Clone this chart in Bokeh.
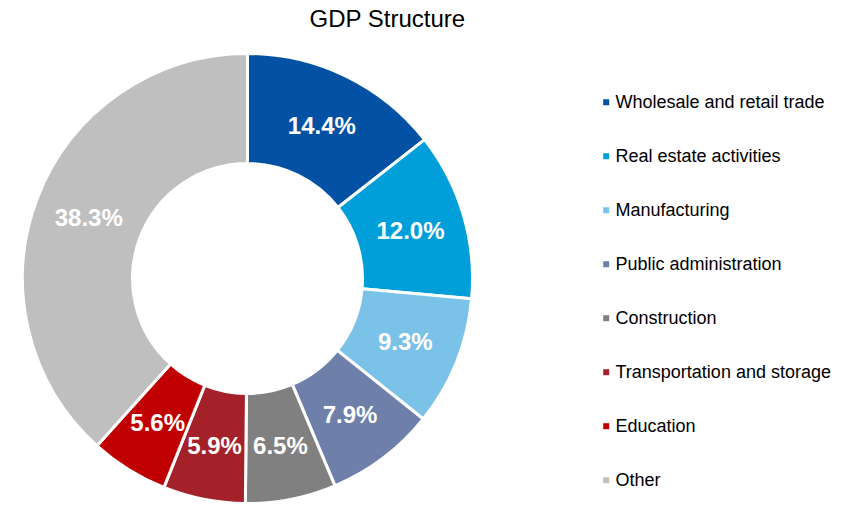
import numpy as np
from bokeh.plotting import figure
from bokeh.models import Range1d, ColumnDataSource
from bokeh.core.properties import value
from bokeh.embed import file_html
from bokeh.resources import INLINE

categories = ["Wholesale and retail trade", "Real estate activities", "Manufacturing",
              "Public administration", "Construction", "Transportation and storage",
              "Education", "Other"]
shares = [14.4, 12.0, 9.3, 7.9, 6.5, 5.9, 5.6, 38.3]
colors = ["#0251A5", "#009FDA", "#7BC2E8", "#6E7FAA", "#808080", "#A5212A", "#C00000", "#BFBFBF"]
title_text = "GDP Structure"

W, H = 861, 505
p = figure(width=W, height=H, output_backend="svg", toolbar_location=None,
           x_range=Range1d(0, W), y_range=Range1d(0, H),
           x_axis_type=None, y_axis_type=None, min_border=0)
p.outline_line_color = None
p.grid.visible = False
p.background_fill_color = "white"

cx, cy = 247, H - 278
R_out, R_in = 225, 115

vals = np.array(shares, dtype=float)
frac = vals / vals.sum()
cum = np.concatenate([[0], np.cumsum(frac)])
start = np.pi / 2 - 2 * np.pi * cum[:-1]
end = np.pi / 2 - 2 * np.pi * cum[1:]
mid = (start + end) / 2
rl = (R_out + R_in) / 2

src = ColumnDataSource(dict(
    start=start, end=end, color=colors,
    lx=cx + rl * np.cos(mid), ly=cy + rl * np.sin(mid),
    lab=[f"{v:.1f}%" for v in shares],
))

p.annular_wedge(x=cx, y=cy, inner_radius=R_in, outer_radius=R_out,
                start_angle="start", end_angle="end", direction="clock",
                fill_color="color", line_color="white", line_width=3, source=src)

p.text(x="lx", y="ly", text="lab", source=src, text_color="white",
       text_font=value("Liberation Sans"), text_font_style="bold",
       text_font_size="24px", text_align="center", text_baseline="middle")

# title
p.text(x=[387], y=[H - 18], text=[title_text], text_color="black",
       text_font=value("Liberation Sans"), text_font_size="24px",
       text_align="center", text_baseline="middle")

# legend
n = len(categories)
ly0 = H - 101.7
leg = ColumnDataSource(dict(
    mx=[605.7] * n, ty=[ly0 - 54 * i for i in range(n)],
    tx=[615] * n, color=colors, name=categories))
p.scatter(x="mx", y="ty", marker="square", size=6, fill_color="color",
          line_color=None, source=leg)
p.text(x="tx", y="ty", text="name", source=leg, text_color="black",
       text_font=value("Liberation Sans"), text_font_size="18px",
       text_align="left", text_baseline="middle")

open("out.html", "w").write(file_html(p, INLINE))
